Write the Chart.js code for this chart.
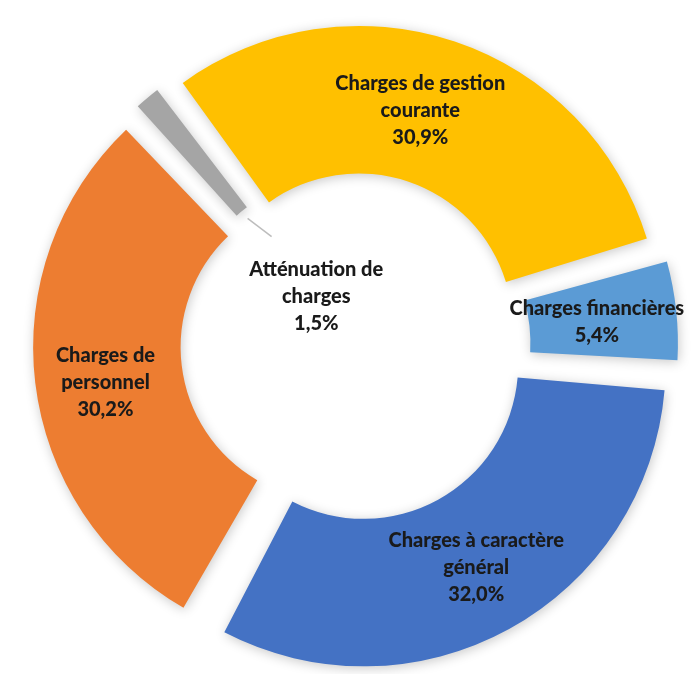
<!DOCTYPE html>
<html><head><meta charset="utf-8">
<script src="https://cdn.jsdelivr.net/npm/chart.js@4.4.1/dist/chart.umd.min.js"></script>
<style>html,body{margin:0;padding:0;background:#fff;}#wrap{width:699px;height:674px;position:relative;}</style>
</head><body><div id="wrap"><canvas id="c"></canvas></div>
<script>
const categories = ["Charges à caractère général", "Charges de personnel", "Atténuation de charges", "Charges de gestion courante", "Charges financières"];
const labelLines = [["Charges à caractère", "général"], ["Charges de", "personnel"], ["Atténuation de", "charges"], ["Charges de gestion", "courante"], ["Charges financières"]];
const shares = [32.0, 30.2, 1.5, 30.9, 5.4];
const percentLabels = ["32,0%", "30,2%", "1,5%", "30,9%", "5,4%"];

const shadowPlugin = {
  id: 'softShadow',
  beforeDatasetsDraw(chart) {
    const c = chart.ctx; c.save();
    c.shadowColor = 'rgba(0,0,0,0.22)'; c.shadowBlur = 12; c.shadowOffsetX = 1; c.shadowOffsetY = 2;
  },
  afterDatasetsDraw(chart) { chart.ctx.restore(); }
};

const nudges = [[6, 9], [-9, 9], [2, -2], [-9, -7], [9, 2]];
const labelPlugin = {
  id: 'sliceLabels',
  afterDatasetsDraw(chart) {
    const ctx = chart.ctx;
    const meta = chart.getDatasetMeta(0);
    const ds = chart.data.datasets[0];
    ctx.save();
    ctx.font = '900 20px Lato';
    ctx.fillStyle = '#1a1a1a';
    ctx.textAlign = 'center'; ctx.textBaseline = 'middle';
    const lh = 27;
    meta.data.forEach((arc, i) => {
      const p = arc.getProps(['x', 'y', 'startAngle', 'endAngle', 'innerRadius', 'outerRadius'], true);
      const mid = (p.startAngle + p.endAngle) / 2;
      const off = ds.offset[i] / 4;
      let r;
      if (i === 2) {
        r = p.innerRadius * 0.41;
        ctx.save();
        ctx.strokeStyle = '#bdbdbd'; ctx.lineWidth = 1.5;
        ctx.beginPath();
        const r1 = p.innerRadius + off + 6, r2 = p.innerRadius - 12;
        ctx.moveTo(p.x + Math.cos(mid) * r1, p.y + Math.sin(mid) * r1);
        ctx.lineTo(p.x + Math.cos(mid + 0.05) * r2, p.y + Math.sin(mid + 0.05) * r2);
        ctx.stroke();
        ctx.restore();
      } else {
        r = (p.innerRadius + p.outerRadius) / 2 + off;
      }
      const cx = p.x + Math.cos(mid) * r + nudges[i][0];
      const cy = p.y + Math.sin(mid) * r + nudges[i][1];
      const lines = labelLines[i].concat([percentLabels[i]]);
      const y0 = cy - (lines.length - 1) * lh / 2;
      lines.forEach((t, k) => ctx.fillText(t, cx, y0 + k * lh));
    });
    ctx.restore();
  }
};

new Chart(document.getElementById('c'), {
  type: 'doughnut',
  data: {
    labels: categories,
    datasets: [{
      data: shares,
      backgroundColor: ["#4472C4", "#ED7D31", "#A5A5A5", "#FFC000", "#5B9BD5"],
      borderWidth: 0,
      offset: [88, 76, 45, 75, 60],
      hoverOffset: 0
    }]
  },
  options: {
    responsive: true,
    maintainAspectRatio: false,
    animation: false,
    rotation: 93.6,
    radius: 295,
    cutout: '50%',
    spacing: 10,
    layout: { padding: { left: 7, right: 0, top: 16, bottom: 0 } },
    plugins: { legend: { display: false }, tooltip: { enabled: false } },
    events: []
  },
  plugins: [shadowPlugin, labelPlugin]
});
</script>
</body></html>
